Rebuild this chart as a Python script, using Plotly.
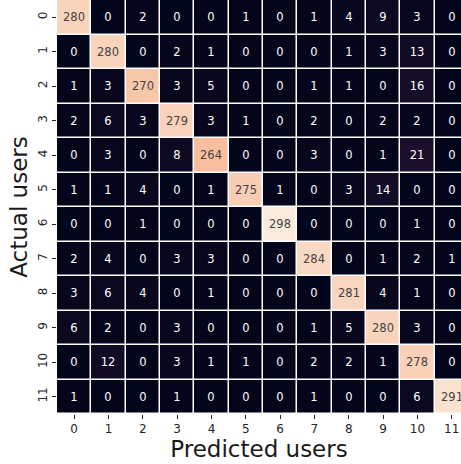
import plotly.graph_objects as go

# Confusion matrix: rows = actual user, columns = predicted user
users = [str(i) for i in range(12)]
row_0 = [280, 0, 2, 0, 0, 1, 0, 1, 4, 9, 3, 0]
row_1 = [0, 280, 0, 2, 1, 0, 0, 0, 1, 3, 13, 0]
row_2 = [1, 3, 270, 3, 5, 0, 0, 1, 1, 0, 16, 0]
row_3 = [2, 6, 3, 279, 3, 1, 0, 2, 0, 2, 2, 0]
row_4 = [0, 3, 0, 8, 264, 0, 0, 3, 0, 1, 21, 0]
row_5 = [1, 1, 4, 0, 1, 275, 1, 0, 3, 14, 0, 0]
row_6 = [0, 0, 1, 0, 0, 0, 298, 0, 0, 0, 1, 0]
row_7 = [2, 4, 0, 3, 3, 0, 0, 284, 0, 1, 2, 1]
row_8 = [3, 6, 4, 0, 1, 0, 0, 0, 281, 4, 1, 0]
row_9 = [6, 2, 0, 3, 0, 0, 0, 1, 5, 280, 3, 0]
row_10 = [0, 12, 0, 3, 1, 1, 0, 2, 2, 1, 278, 0]
row_11 = [1, 0, 0, 1, 0, 0, 0, 1, 0, 0, 6, 291]
matrix = [row_0, row_1, row_2, row_3, row_4, row_5,
          row_6, row_7, row_8, row_9, row_10, row_11]

# "rocket"-style sequential colour scale
rocket = [
    [0.0, "#03051A"],
    [0.143, "#35193E"],
    [0.286, "#701F57"],
    [0.429, "#AD1759"],
    [0.571, "#E13342"],
    [0.714, "#F37651"],
    [0.857, "#F6B48F"],
    [1.0, "#FAEBDD"],
]

fig = go.Figure(
    go.Heatmap(
        z=matrix,
        x=list(range(12)),
        y=list(range(12)),
        colorscale=rocket,
        zmin=0,
        zmax=max(max(r) for r in matrix),
        showscale=False,
        xgap=1.5,
        ygap=1.5,
        texttemplate="%{z}",
        textfont=dict(family="DejaVu Sans", size=11.5),
        hoverinfo="skip",
    )
)

fig.update_layout(
    width=461,
    height=464,
    margin=dict(l=57, r=0, t=0, b=50),
    plot_bgcolor="white",
    paper_bgcolor="white",
    font=dict(family="DejaVu Sans", color="#262626"),
)

fig.update_xaxes(
    range=[-0.5, 11.27],
    tickmode="array",
    tickvals=list(range(12)),
    ticktext=users,
    ticks="outside",
    ticklen=4,
    tickwidth=1,
    tickcolor="#262626",
    tickfont=dict(size=12, color="#262626"),
    showgrid=False,
    zeroline=False,
    showline=False,
    title=dict(text="Predicted users", font=dict(size=23, color="#1a1a1a"), standoff=2),
)

fig.update_yaxes(
    range=[11.5, -0.5],
    tickmode="array",
    tickvals=list(range(12)),
    ticktext=users,
    tickangle=-90,
    ticks="outside",
    ticklen=4,
    tickwidth=1,
    tickcolor="#262626",
    tickfont=dict(size=12, color="#262626"),
    showgrid=False,
    zeroline=False,
    showline=False,
    title=dict(text="Actual users", font=dict(size=23, color="#1a1a1a"), standoff=2),
)

fig.write_html("out.html")
